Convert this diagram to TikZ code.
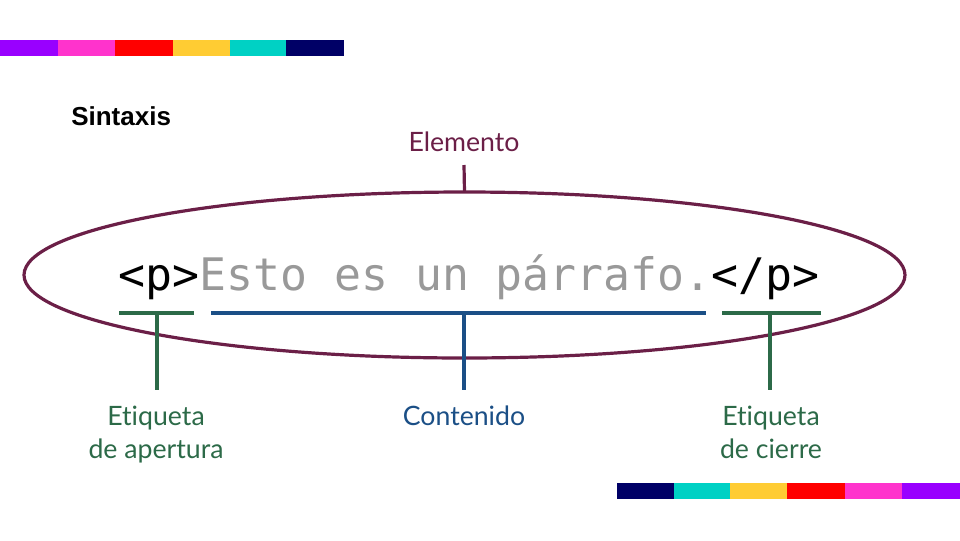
\documentclass[tikz,border=0pt]{standalone}
\usepackage{fontspec}
\usetikzlibrary{shapes.geometric}
\setmainfont{Lato}[Ligatures=NoCommon]
\newfontfamily\codefont{DejaVu Sans Mono}
\newfontfamily\headfont{Liberation Sans}
\definecolor{cpurple}{HTML}{9900FF}
\definecolor{cpink}{HTML}{FF33CC}
\definecolor{cred}{HTML}{FF0000}
\definecolor{cyellow}{HTML}{FFCC33}
\definecolor{cteal}{HTML}{00D1C4}
\definecolor{cnavy}{HTML}{000066}
\definecolor{elem}{HTML}{6B1F47}
\definecolor{tagc}{HTML}{2C6A48}
\definecolor{contc}{HTML}{1B4F86}
\definecolor{codegray}{HTML}{999999}
\begin{document}
\begin{tikzpicture}[x=0.75pt,y=-0.75pt,
  lbl/.style={font=\fontsize{20}{24.75}\selectfont, align=center, inner sep=0pt},
  conn/.style={line width=2.4pt}]
\useasboundingbox (0,0) rectangle (960,540);
% top bar
\foreach \a/\b/\c in {0/58/cpurple,58/115/cpink,115/173/cred,173/230/cyellow,230/286/cteal,286/344/cnavy}
  \fill[\c] (\a,40) rectangle (\b,56);
% bottom bar
\foreach \a/\b/\c in {617/674/cnavy,674/730/cteal,730/787/cyellow,787/845/cred,845/902/cpink,902/960/cpurple}
  \fill[\c] (\a,483) rectangle (\b,499);
% title
\node[anchor=base west, inner sep=0pt, font=\headfont\bfseries\fontsize{19.5}{22}\selectfont] (title) at (71,125) {Sintaxis};
% element
\node[lbl, text=elem, anchor=base] (elemlbl) at (464,151) {Elemento};
\node[draw=elem, line width=2.4pt, ellipse, minimum width=881*0.75pt, minimum height=166*0.75pt, inner sep=0pt, outer sep=0pt] (ell) at (464.5,275) {};
\coordinate (etop) at (464,165);
\draw[elem, conn] (etop) -- (ell.north);
% code
\node[anchor=base, inner sep=0pt, font=\codefont\fontsize{33.6}{40}\selectfont] (code) at (469,290)
  {\textcolor{black}{<p>}\textcolor{codegray}{Esto es un párrafo.}\textcolor{black}{</p>}};
% underlines
\coordinate (g1a) at (119,313); \coordinate (g1b) at (194,313); \coordinate (g1m) at (157,313);
\coordinate (b1a) at (211,313); \coordinate (b1b) at (706,313); \coordinate (b1m) at (464,313);
\coordinate (g2a) at (722,313); \coordinate (g2b) at (821,313); \coordinate (g2m) at (770,313);
\coordinate (g1d) at (157,390); \coordinate (b1d) at (464,390); \coordinate (g2d) at (770,390);
\draw[tagc, conn] (g1a) -- (g1b);
\draw[tagc, conn] (g1m) -- (g1d);
\draw[contc, conn] (b1a) -- (b1b);
\draw[contc, conn] (b1m) -- (b1d);
\draw[tagc, conn] (g2a) -- (g2b);
\draw[tagc, conn] (g2m) -- (g2d);
% labels (base anchor = baseline of last line)
\node[lbl, text=tagc, anchor=base] (open) at (156,458) {Etiqueta\\de apertura};
\node[lbl, text=contc, anchor=base] (cont) at (464,425) {Contenido};
\node[lbl, text=tagc, anchor=base] (close) at (771,458) {Etiqueta\\de cierre};
\end{tikzpicture}
\end{document}
